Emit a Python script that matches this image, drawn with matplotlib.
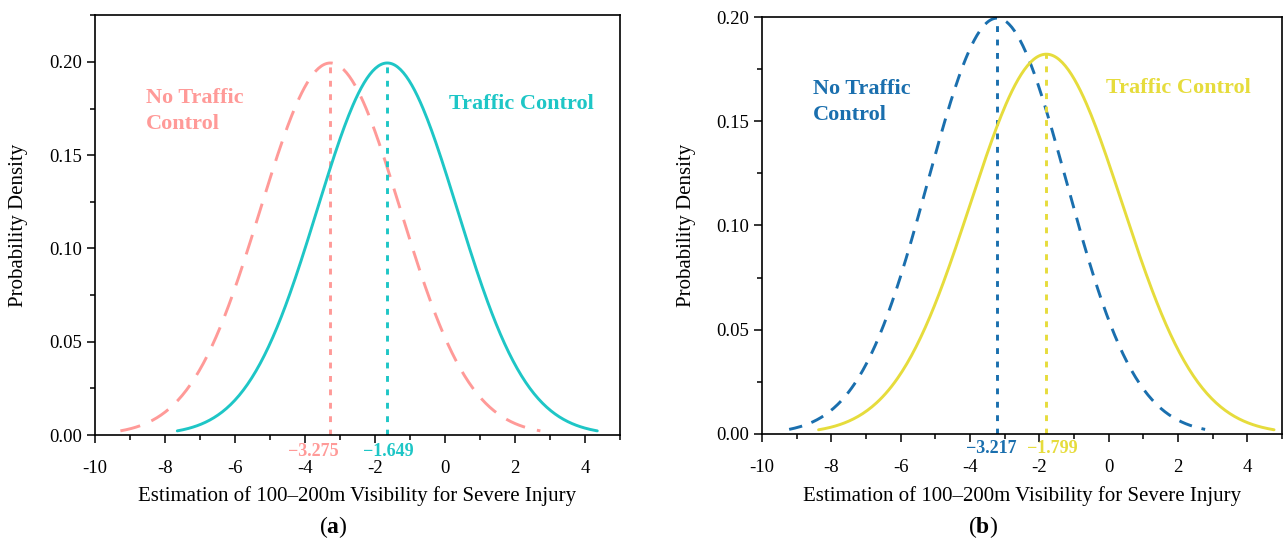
import matplotlib
matplotlib.use('Agg')
import matplotlib.pyplot as plt
import matplotlib.transforms as mtransforms
from matplotlib.ticker import MultipleLocator
import numpy as np

plt.rcParams['font.family'] = ['Liberation Serif', 'DejaVu Serif']
plt.rcParams['mathtext.fontset'] = 'custom'
plt.rcParams['mathtext.rm'] = 'Liberation Serif'
plt.rcParams['mathtext.bf'] = 'Liberation Serif:bold'

# panel (a): means and standard deviations of the two normal densities
a_names = ['No Traffic\nControl', 'Traffic Control']
a_means = [-3.275, -1.649]
a_sds = [2.0, 2.0]
a_colors = ['#ff9a98', '#1ec6c6']

# panel (b)
b_names = ['No Traffic\nControl', 'Traffic Control']
b_means = [-3.217, -1.799]
b_sds = [2.0, 2.19]
b_colors = ['#1a6fae', '#e6dc3c']

xlabel = 'Estimation of 100\u2013200m Visibility for Severe Injury'
ylabel = 'Probability Density'


def density(mu, sd):
    x = np.linspace(mu - 3 * sd, mu + 3 * sd, 300)
    y = np.exp(-0.5 * ((x - mu) / sd) ** 2) / (sd * np.sqrt(2 * np.pi))
    return x, y


def panel(ax, means, sds, colors, names, dash, ylim, name_pos, mean_dx, mean_y):
    trans = mtransforms.blended_transform_factory(ax.transData, ax.transAxes)
    for i in range(2):
        x, y = density(means[i], sds[i])
        peak = 1 / (sds[i] * np.sqrt(2 * np.pi))
        if i == 0:
            ax.plot(x, y, color=colors[i], lw=2.1, linestyle=(0, dash),
                    solid_capstyle='butt', dash_capstyle='butt')
        else:
            ax.plot(x, y, color=colors[i], lw=2.1, solid_capstyle='round')
        ax.plot([means[i], means[i]], [0, peak], color=colors[i], lw=2.1,
                linestyle=(0, (2.0, 2.6)), dash_capstyle='butt')
        ax.text(means[i] + mean_dx[i], mean_y, '\u2212%.3f' % abs(means[i]), transform=trans,
                color=colors[i], fontsize=13, fontweight='bold', ha='center', va='center')
        ax.text(name_pos[i][0], name_pos[i][1], names[i], transform=ax.transAxes,
                color=colors[i], fontsize=16, fontweight='bold', ha='left', va=name_pos[i][2],
                linespacing=1.4)
    ax.set_xlim(-10, 5)
    ax.set_ylim(*ylim)
    ax.xaxis.set_major_locator(MultipleLocator(2))
    ax.xaxis.set_minor_locator(MultipleLocator(1))
    ax.yaxis.set_major_locator(MultipleLocator(0.05))
    ax.yaxis.set_minor_locator(MultipleLocator(0.025))
    ax.xaxis.set_major_formatter(plt.FuncFormatter(lambda v, p: '%d' % v))
    ax.yaxis.set_major_formatter(plt.FuncFormatter(lambda v, p: '%.2f' % v))
    ax.tick_params(which='both', direction='out', top=False, right=False, labelsize=13.5, width=1.1)
    ax.tick_params(which='major', length=6)
    ax.tick_params(which='minor', length=3.5)
    ax.tick_params(axis='x', pad=12)
    for s in ax.spines.values():
        s.set_linewidth(1.2)
    ax.set_xlabel(xlabel, fontsize=15)
    ax.set_ylabel(ylabel, fontsize=15)


fig = plt.figure(figsize=(12.83, 5.48), dpi=100)
ax1 = fig.add_axes([95 / 1283, 113 / 548, 525 / 1283, 420 / 548])
ax2 = fig.add_axes([762 / 1283, 114 / 548, 520 / 1283, 417 / 548])

panel(ax1, a_means, a_sds, a_colors, a_names, (7.0, 4.2), (0, 0.2252),
      [(0.097, 0.826, 'top'), (0.674, 0.788, 'center')], [-0.49, 0.02], -0.040)
panel(ax2, b_means, b_sds, b_colors, b_names, (4.6, 3.4), (0, 0.2),
      [(0.098, 0.852, 'top'), (0.662, 0.83, 'center')], [-0.17, 0.17], -0.034)

ax1.yaxis.set_label_coords(-0.128, 0.5)
ax2.yaxis.set_label_coords(-0.127, 0.5)
ax1.xaxis.set_label_coords(0.5, -0.122)
ax2.xaxis.set_label_coords(0.5, -0.124)

fig.text(333 / 1283, 1 - 527 / 548, r'($\mathbf{a}$)', fontsize=17, ha='center', va='center')
fig.text(983 / 1283, 1 - 527 / 548, r'($\mathbf{b}$)', fontsize=17, ha='center', va='center')

fig.savefig('out.png', dpi=100)
